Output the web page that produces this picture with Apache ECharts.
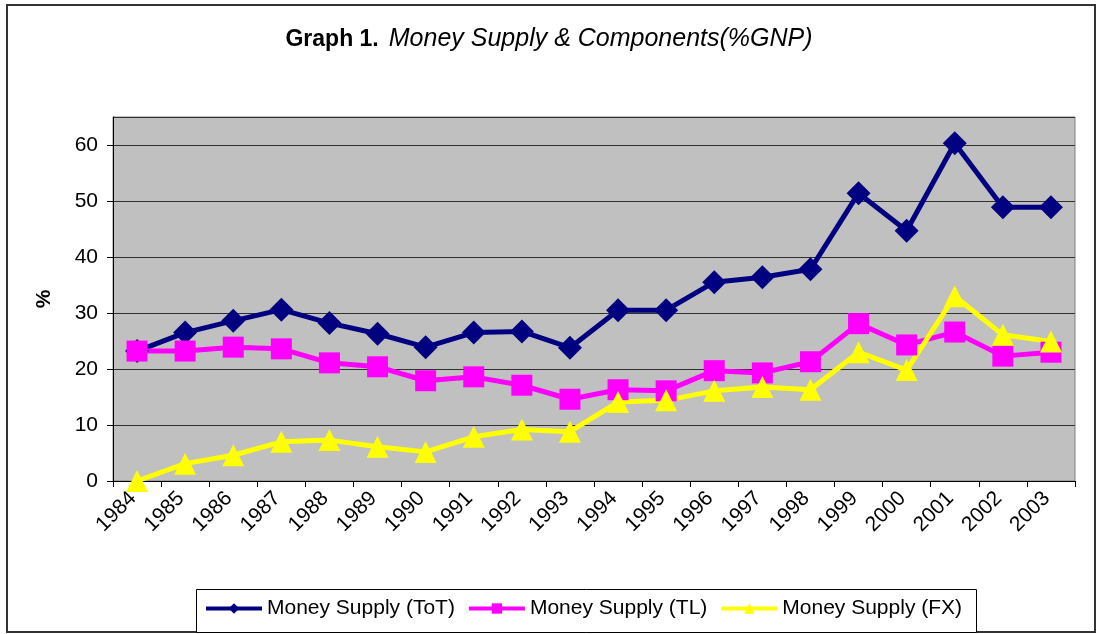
<!DOCTYPE html>
<html>
<head>
<meta charset="utf-8">
<script src="https://cdn.jsdelivr.net/npm/echarts@6/dist/echarts.min.js"></script>
<style>
    html, body { margin: 0; padding: 0; background: #fff; }
    #main { width: 1098px; height: 634px; }
</style>
</head>
<body>
<div id="main"></div>
<script type="text/javascript">
    // data
    var years = ['1984', '1985', '1986', '1987', '1988', '1989', '1990', '1991', '1992', '1993',
                 '1994', '1995', '1996', '1997', '1998', '1999', '2000', '2001', '2002', '2003'];
    var supplyTot = [23.2, 26.5, 28.6, 30.6, 28.2, 26.3, 23.9, 26.5, 26.7, 23.8,
                     30.5, 30.5, 35.5, 36.4, 37.8, 51.4, 44.7, 60.3, 48.9, 48.9];
    var supplyTl = [23.2, 23.2, 23.9, 23.6, 21.1, 20.4, 17.9, 18.6, 17.1, 14.6,
                    16.3, 16.1, 19.7, 19.3, 21.3, 28.1, 24.3, 26.6, 22.3, 23.0];
    var supplyFx = [0, 3.1, 4.6, 7.0, 7.3, 6.1, 5.2, 7.9, 9.2, 8.8,
                    14.1, 14.4, 16.1, 16.8, 16.3, 23.0, 19.8, 33.0, 26.1, 24.9];
    var yTicks = [0, 10, 20, 30, 40, 50, 60];

    var font = 'Liberation Sans, Arial, sans-serif';
    var myChart = echarts.init(document.getElementById('main'));

    myChart.setOption({
        animation: false,
        textStyle: { fontFamily: font },
        title: {
            left: 'center',
            top: 22,
            text: '{b|Graph 1.}  {i|Money Supply & Components(%GNP)}',
            textStyle: {
                rich: {
                    b: { fontSize: 23, fontWeight: 'bold', color: '#000', fontFamily: font },
                    i: { fontSize: 25, fontWeight: 'normal', fontStyle: 'italic', color: '#000', fontFamily: font }
                }
            }
        },
        // outer frame and legend box
        graphic: [
            {
                type: 'rect', silent: true, z: -1,
                shape: { x: 7, y: 5, width: 1088, height: 627 },
                style: { fill: null, stroke: '#333', lineWidth: 2 }
            },
            {
                type: 'rect', silent: true, z: -1,
                shape: { x: 196.5, y: 589.5, width: 780, height: 43 },
                style: { fill: '#fff', stroke: '#000', lineWidth: 1 }
            }
        ],
        legend: {
            left: 204,
            top: 598,
            padding: 0,
            itemWidth: 56,
            itemHeight: 13,
            itemGap: 12,
            lineStyle: { width: 4 },
            textStyle: { fontSize: 21, color: '#000', fontFamily: font },
            data: ['Money Supply (ToT)', 'Money Supply (TL)', 'Money Supply (FX)']
        },
        grid: {
            left: 113,
            right: 23,
            top: 117,
            bottom: 153,
            show: true,
            backgroundColor: '#c0c0c0',
            borderColor: '#808080',
            borderWidth: 1
        },
        xAxis: {
            type: 'category',
            data: years,
            boundaryGap: true,
            axisLine: { lineStyle: { color: '#000', width: 1 } },
            axisTick: { show: true, length: 6, lineStyle: { color: '#000' } },
            axisLabel: { rotate: 45, margin: 10, fontSize: 21, color: '#000', interval: 0, padding: [0, 6, 0, 0] }
        },
        yAxis: {
            type: 'value',
            min: 0,
            max: 65,
            interval: 10,
            name: '%',
            nameLocation: 'middle',
            nameGap: 58,
            nameTextStyle: { fontSize: 21, fontWeight: 'bold', color: '#000' },
            axisLine: { show: true, lineStyle: { color: '#000', width: 1 } },
            axisTick: { show: true, length: 6, lineStyle: { color: '#000' } },
            axisLabel: {
                fontSize: 21, color: '#000', margin: 15, showMaxLabel: false,
                formatter: function (v) { return yTicks.indexOf(v) >= 0 ? v : ''; }
            },
            splitLine: { show: true, lineStyle: { color: '#303030', width: 1 } }
        },
        series: [
            {
                name: 'Money Supply (ToT)',
                type: 'line',
                data: supplyTot,
                symbol: 'diamond',
                symbolSize: 24,
                itemStyle: { color: '#000080' },
                lineStyle: { color: '#000080', width: 5 }
            },
            {
                name: 'Money Supply (TL)',
                type: 'line',
                data: supplyTl,
                symbol: 'rect',
                symbolSize: 21,
                itemStyle: { color: '#ff00ff' },
                lineStyle: { color: '#ff00ff', width: 5 }
            },
            {
                name: 'Money Supply (FX)',
                type: 'line',
                data: supplyFx,
                symbol: 'triangle',
                symbolSize: 22,
                itemStyle: { color: '#ffff00' },
                lineStyle: { color: '#ffff00', width: 5 }
            }
        ]
    });
</script>
</body>
</html>
